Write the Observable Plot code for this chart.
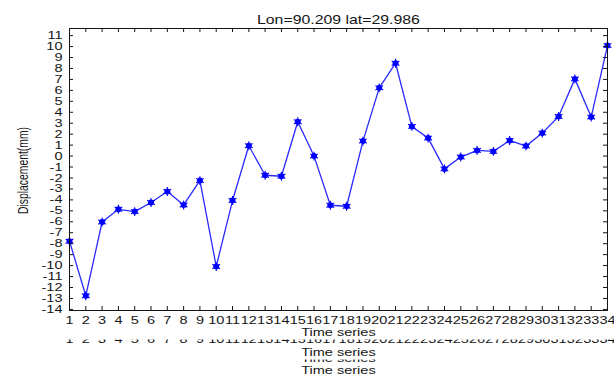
<!DOCTYPE html>
<html>
<head>
<meta charset="utf-8">
<script src="https://cdn.jsdelivr.net/npm/d3@7"></script>
<script src="https://cdn.jsdelivr.net/npm/@observablehq/plot@0.6"></script>
<style>
  html, body { margin: 0; padding: 0; background: #fff; overflow: hidden; }
</style>
</head>
<body>
<div id="chart"></div>
<script>
// Epoch index along the time series
const epochs = [1, 2, 3, 4, 5, 6, 7, 8, 9, 10, 11, 12, 13, 14, 15, 16, 17,
                18, 19, 20, 21, 22, 23, 24, 25, 26, 27, 28, 29, 30, 31, 32, 33, 34];
// Displacement at each epoch (mm)
const displacement = [-7.77, -12.75, -6.02, -4.86, -5.07, -4.24, -3.23, -4.46, -2.24, -10.08,
                      -4.06, 0.94, -1.75, -1.84, 3.13, 0.0, -4.49, -4.58, 1.37, 6.23,
                      8.48, 2.71, 1.64, -1.17, -0.09, 0.52, 0.43, 1.43, 0.91, 2.10,
                      3.62, 7.05, 3.56, 10.09];
const xTicks = epochs;
const yTicks = [-14, -13, -12, -11, -10, -9, -8, -7, -6, -5, -4, -3, -2, -1,
                0, 1, 2, 3, 4, 5, 6, 7, 8, 9, 10, 11];
const titleText = "Lon=90.209 lat=29.986";
const xLabel = "Time series";
const yLabel = "Displacement(mm)";

const points = epochs.map((t, i) => ({t, d: displacement[i]}));

const W = 614, H = 378;
const mL = 69, mR = 7, mT = 28, mB = 68;
const plotW = W - mL - mR, plotH = H - mT - mB;
const tickLen = 4;
const ink = "#151515";
const inkTicksRow = "#141414";   // colour tag for the half-hidden tick row
const inkCaptionRow = "#131313"; // colour tag for the half-hidden caption
const blue = "#0000ff";

const chart = Plot.plot({
  width: W,
  height: H,
  marginLeft: mL,
  marginRight: mR,
  marginTop: mT,
  marginBottom: mB,
  x: {domain: [1, 34]},
  y: {domain: [-14.1, 11.65]},
  style: {fontFamily: "'Liberation Sans', Arial, sans-serif", fontSize: "11px", color: ink, background: "#fff"},
  marks: [
    // data
    Plot.line(points, {x: "t", y: "d", stroke: "#2a2aff", strokeWidth: 1.3}),
    Plot.dot(points, {x: "t", y: "d", r: 3, fill: blue, stroke: "none"}),
    Plot.dot(points, {x: "t", y: "d", r: 4.2, symbol: "asterisk", stroke: blue, strokeWidth: 1.1}),
    // box with inward ticks on every side
    Plot.frame({stroke: ink, strokeWidth: 1}),
    Plot.tickX(xTicks, {x: d => d, insetBottom: plotH - tickLen, stroke: ink}),
    Plot.tickX(xTicks, {x: d => d, insetTop: plotH - tickLen, stroke: ink}),
    Plot.tickY(yTicks, {y: d => d, insetRight: plotW - tickLen, stroke: ink}),
    Plot.tickY(yTicks, {y: d => d, insetLeft: plotW - tickLen, stroke: ink}),
    // tick labels
    Plot.axisX({ticks: xTicks, tickSize: 0, tickPadding: 6, tickFormat: d => String(d), label: null, fill: ink}),
    Plot.axisY({ticks: yTicks, tickSize: 0, tickPadding: 7, tickFormat: d => String(d), label: null, fill: ink}),
    // repeated x captions below the axis
    Plot.text(xTicks, {x: d => d, text: d => String(d), frameAnchor: "bottom", dy: 32, fill: inkTicksRow}),
    Plot.text([xLabel], {text: d => d, frameAnchor: "bottom", dy: 25, fill: ink}),
    Plot.text([xLabel], {text: d => d, frameAnchor: "bottom", dy: 45, fill: ink}),
    Plot.text([xLabel], {text: d => d, frameAnchor: "bottom", dy: 51.5, fill: inkCaptionRow}),
    Plot.text([xLabel], {text: d => d, frameAnchor: "bottom", dy: 63, fill: ink}),
    // title and y label
    Plot.text([titleText], {text: d => d, frameAnchor: "top", dy: -13, fontSize: 12, fill: ink}),
    Plot.text([yLabel], {text: d => d, frameAnchor: "left", textAnchor: "middle", dx: -46, dy: 1, rotate: -90, fontSize: 10.4, fill: ink})
  ]
});

document.getElementById("chart").append(chart);
const svg = chart;
const NS = "http://www.w3.org/2000/svg";

// wide lettering: stretch every label horizontally about its anchor point
const S = 1.32;
svg.querySelectorAll("text").forEach(t => {
  const r = t.getBoundingClientRect();
  const anchor = getComputedStyle(t).textAnchor;
  const axScreen = anchor === "end" ? r.right : anchor === "start" ? r.left : (r.left + r.right) / 2;
  const p = svg.createSVGPoint();
  p.x = axScreen; p.y = r.top;
  const lp = p.matrixTransform(t.parentNode.getScreenCTM().inverse());
  const g = document.createElementNS(NS, "g");
  g.setAttribute("transform", `translate(${lp.x},0) scale(${S},1) translate(${-lp.x},0)`);
  t.parentNode.insertBefore(g, t);
  g.appendChild(t);
});

// half-hidden caption rows: clip each to a horizontal band given in page pixels
const defs = document.createElementNS(NS, "defs");
svg.insertBefore(defs, svg.firstChild);
function clipRows(fillTag, id, y, h) {
  const cp = document.createElementNS(NS, "clipPath");
  cp.setAttribute("id", id);
  cp.setAttribute("clipPathUnits", "userSpaceOnUse");
  const rect = document.createElementNS(NS, "rect");
  rect.setAttribute("x", 0); rect.setAttribute("y", y);
  rect.setAttribute("width", W); rect.setAttribute("height", h);
  cp.appendChild(rect);
  defs.appendChild(cp);
  Array.from(svg.querySelectorAll("g")).filter(g => {
    const f = (g.getAttribute("fill") || "").toLowerCase();
    return f === fillTag;
  }).forEach(grp => {
    const wrap = document.createElementNS(NS, "g");
    wrap.setAttribute("clip-path", `url(#${id})`);
    grp.parentNode.insertBefore(wrap, grp);
    wrap.appendChild(grp);
  });
}
clipRows(inkTicksRow, "clip-ghost-ticks", 339.6, 12);
clipRows(inkCaptionRow, "clip-ghost-caption", 359.6, 7);
</script>
</body>
</html>
